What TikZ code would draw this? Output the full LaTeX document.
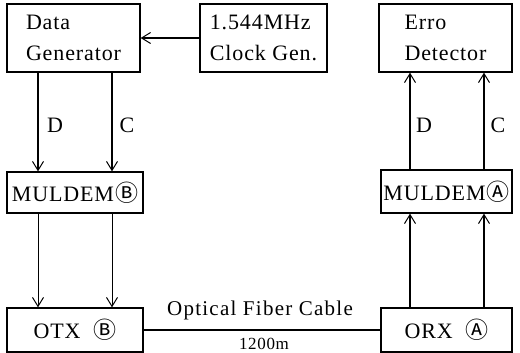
\documentclass[tikz,border=0pt]{standalone}
\usepackage{fontspec}
\setmainfont{Liberation Serif}[LetterSpace=4]
\newfontfamily\symfont{Noto Sans CJK JP}
\usetikzlibrary{arrows.meta}
\tikzset{
  blk/.style={draw, line width=1.3pt, inner sep=0pt, align=left,
    font=\fontsize{22}{31}\selectfont},
  link/.style={line width=1.1pt, -{Straight Barb[length=9pt,width=11pt,line width=1pt]}},
  lbl/.style={font=\fontsize{22}{24}\selectfont, inner sep=0pt}
}
\newcommand{\circA}{{\symfont\fontsize{23}{24}\selectfont Ⓐ}}
\newcommand{\circB}{{\symfont\fontsize{23}{24}\selectfont Ⓑ}}
\begin{document}
\begin{tikzpicture}[x=1pt,y=-1pt]
\useasboundingbox (0,0) rectangle (520,353);
\node[blk, minimum width=133pt, minimum height=68pt] (dg) at (73.5,38) {Data\\Generator};
\node[blk, minimum width=127pt, minimum height=68pt] (cg) at (263.5,38) {1.544MHz\\Clock Gen.};
\node[blk, minimum width=133pt, minimum height=68pt] (ed) at (445.5,38) {Erro\\Detector};
\node[blk, minimum width=136pt, minimum height=41pt] (mb) at (75,192.5) {MULDEM\kern1pt\circB};
\node[blk, minimum width=131pt, minimum height=43pt] (ma) at (446.5,191.5) {MULDEM\kern1pt\circA};
\node[blk, minimum width=136pt, minimum height=44pt] (otx) at (75,330) {OTX\ \ \circB};
\node[blk, minimum width=131pt, minimum height=44pt] (orx) at (446.5,330) {ORX\ \ \circA};
% clock to data generator
\draw[link] (cg.west) -- (dg.east);
% left side
\draw[link] (dg.south -| 38,0) -- (mb.north -| 38,0);
\draw[link] (dg.south -| 112,0) -- (mb.north -| 112,0);
\draw[link, line width=0.8pt] (mb.south -| 38,0) -- (otx.north -| 38,0);
\draw[link, line width=0.8pt] (mb.south -| 112,0) -- (otx.north -| 112,0);
% right side
\draw[link] (orx.north -| 410,0) -- (ma.south -| 410,0);
\draw[link] (orx.north -| 484,0) -- (ma.south -| 484,0);
\draw[link] (ma.north -| 410,0) -- (ed.south -| 410,0);
\draw[link] (ma.north -| 484,0) -- (ed.south -| 484,0);
% labels
\node[lbl] (ld) at (55,125) {D};
\node[lbl] (lc) at (127,125) {C};
\node[lbl] (rd) at (424,125) {D};
\node[lbl] (rc) at (498,125) {C};
% cable
\draw[line width=1.1pt] (otx.east) -- (orx.west);
\node[lbl, anchor=base, font=\fontsize{21}{24}\selectfont\addfontfeature{LetterSpace=6}] (cab) at (260,315) {Optical Fiber Cable};
\node[lbl, anchor=base, font=\fontsize{17}{20}\selectfont] (len) at (264,349) {1200m};
\end{tikzpicture}
\end{document}
